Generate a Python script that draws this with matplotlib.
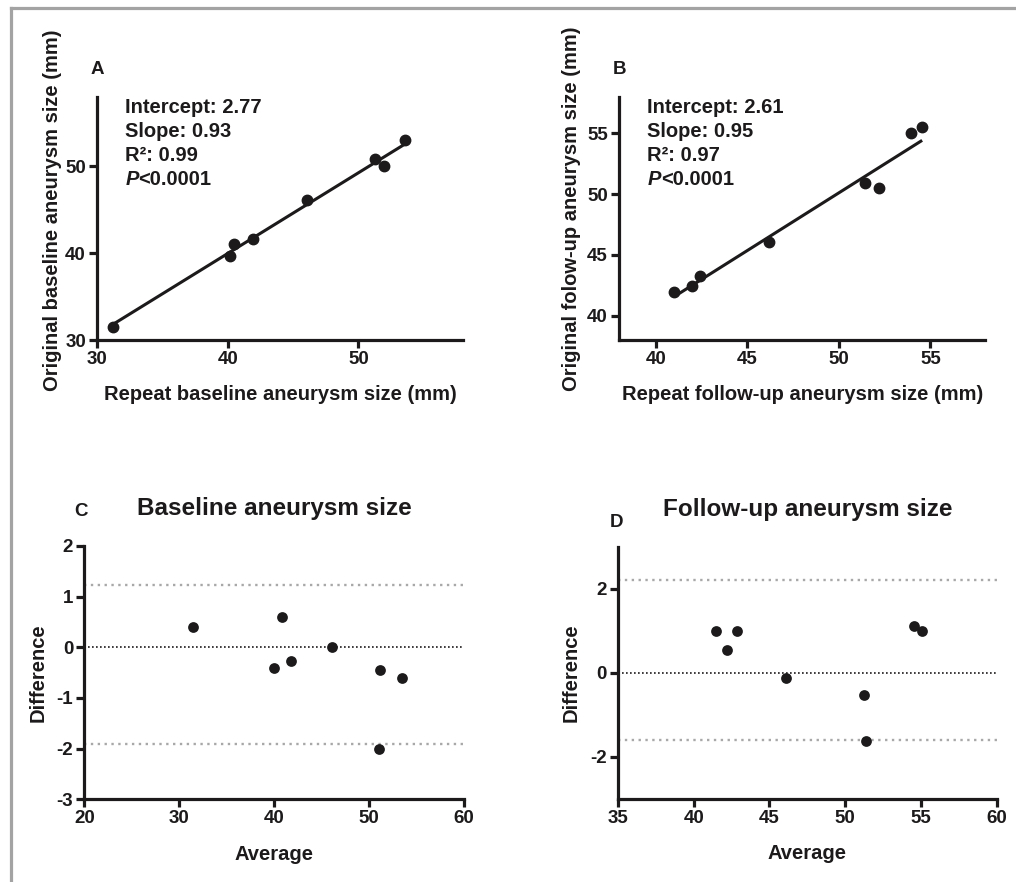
import matplotlib
matplotlib.use('Agg')
import matplotlib.pyplot as plt
from matplotlib.lines import Line2D

plt.rcParams['font.family'] = ['Liberation Sans', 'DejaVu Sans']
plt.rcParams['font.weight'] = 'bold'
plt.rcParams['axes.labelweight'] = 'bold'
plt.rcParams['axes.unicode_minus'] = False

# A: baseline, repeat vs original
base_rep = [31.2, 40.2, 40.5, 41.9, 46.1, 51.3, 51.95, 53.6]
base_orig = [31.5, 39.7, 41.1, 41.6, 46.1, 50.9, 50.0, 53.1]
base_fit = (2.77, 0.93)

# B: follow-up, repeat vs original
fu_rep = [41.0, 41.97, 42.4, 46.2, 51.45, 52.2, 53.95, 54.55]
fu_orig = [41.95, 42.45, 43.3, 46.05, 50.95, 50.55, 55.05, 55.55]
fu_fit = (2.61, 0.95)

# C: Bland-Altman baseline
c_avg = [31.4, 40.0, 40.8, 41.75, 46.05, 51.15, 51.0, 53.45]
c_diff = [0.40, -0.41, 0.60, -0.27, 0.0, -0.45, -2.0, -0.61]
c_limits = [1.22, -1.90]

# D: Bland-Altman follow-up
d_avg = [41.45, 42.2, 42.85, 46.1, 51.25, 51.4, 54.55, 55.1]
d_diff = [1.0, 0.55, 1.0, -0.12, -0.52, -1.61, 1.11, 1.0]
d_limits = [2.21, -1.59]

ink = '#1c1a1b'

fig = plt.figure(figsize=(10.16, 8.82), dpi=100)

# grey frame of the original figure
fig.add_artist(Line2D([0.0105, 1.0], [0.9905, 0.9905], color='#a3a3a3', lw=2.3))
fig.add_artist(Line2D([0.0105, 0.0105], [0.0, 0.9905], color='#a3a3a3', lw=2.3))


def style(ax):
    for s in ['top', 'right']:
        ax.spines[s].set_visible(False)
    for s in ['left', 'bottom']:
        ax.spines[s].set_linewidth(2.3)
        ax.spines[s].set_color(ink)
    ax.tick_params(direction='out', length=6, width=2.3, color=ink,
                   labelsize=13.5, pad=2, labelcolor=ink)
    for lab in ax.get_xticklabels() + ax.get_yticklabels():
        lab.set_fontweight('bold')


def regress(ax, x, y, fit, lim, ticks, xlabel, ylabel, stats, letter, ylab_pos):
    ax.plot(x, y, 'o', color=ink, ms=7.5, zorder=3)
    x0, x1 = min(x), max(x)
    ax.plot([x0, x1], [fit[0] + fit[1] * x0, fit[0] + fit[1] * x1],
            color=ink, lw=2.2, solid_capstyle='butt')
    ax.set_xlim(lim)
    ax.set_ylim(lim)
    ax.set_xticks(ticks)
    ax.set_yticks(ticks)
    ax.set_xlabel(xlabel, fontsize=14.5, color=ink)
    ax.set_ylabel(ylabel, fontsize=14.5, color=ink)
    ax.xaxis.set_label_coords(0.5, -0.184)
    ax.yaxis.set_label_coords(ylab_pos[0], ylab_pos[1])
    style(ax)
    lines = ['Intercept: %.2f' % fit[0], 'Slope: %.2f' % fit[1], 'R\u00b2: %.2f' % stats]
    for i, t in enumerate(lines):
        ax.text(0.077, 0.995 - i * 0.099, t, transform=ax.transAxes,
                fontsize=14.5, va='top', color=ink)
    p = ax.text(0.077, 0.995 - 3 * 0.099, 'P', transform=ax.transAxes,
                fontsize=14.5, va='top', style='italic', color=ink)
    ax.annotate('<0.0001', xy=(1, 0), xycoords=p, va='bottom', ha='left',
                fontsize=14.5, color=ink)
    ax.text(0.0, 1.08, letter, transform=ax.transAxes, fontsize=13.5,
            ha='center', va='bottom', color=ink)


axA = fig.add_axes([0.0955, 0.6145, 0.3602, 0.2755])
regress(axA, base_rep, base_orig, base_fit, (30, 58), [30, 40, 50],
        'Repeat baseline aneurysm size (mm)', 'Original baseline aneurysm size (mm)',
        0.99, 'A', (-0.0945, 0.535))

axB = fig.add_axes([0.6093, 0.6145, 0.3605, 0.2755])
regress(axB, fu_rep, fu_orig, fu_fit, (38, 58), [40, 45, 50, 55],
        'Repeat follow-up aneurysm size (mm)', 'Original folow-up aneurysm size (mm)',
        0.97, 'B', (-0.105, 0.54))


def bland(ax, avg, diff, limits, xlim, ylim, xticks, yticks, title, letter, lpos, ylx):
    ax.scatter(avg, diff, s=60, color=ink, zorder=3, linewidths=0)
    for v in limits:
        ax.axhline(v, color='#a8a8a8', lw=1.7, ls=(0, (1, 1.9)))
    ax.axhline(0, color=ink, lw=1.2, ls=(0, (1, 1.4)))
    ax.set_xlim(xlim)
    ax.set_ylim(ylim)
    ax.set_xticks(xticks)
    ax.set_yticks(yticks)
    ax.set_xlabel('Average', fontsize=14.5, color=ink)
    ax.set_ylabel('Difference', fontsize=14.5, color=ink)
    ax.xaxis.set_label_coords(0.5, -0.180)
    ax.yaxis.set_label_coords(ylx, 0.5)
    style(ax)
    ax.set_title(title, fontsize=17.5, fontweight='bold', pad=22, color=ink)
    ax.text(lpos[0], lpos[1], letter, transform=ax.transAxes, fontsize=13.5,
            ha='center', va='center', color=ink)


axC = fig.add_axes([0.083, 0.0938, 0.3737, 0.2872])
bland(axC, c_avg, c_diff, c_limits, (20, 60), (-3, 2), [20, 30, 40, 50, 60],
      [-3, -2, -1, 0, 1, 2], 'Baseline aneurysm size', 'C', (-0.01, 1.135), -0.096)

axD = fig.add_axes([0.6083, 0.0941, 0.3727, 0.2861])
bland(axD, d_avg, d_diff, d_limits, (35, 60), (-3, 3), [35, 40, 45, 50, 55, 60],
      [-2, 0, 2], 'Follow-up aneurysm size', 'D', (-0.005, 1.095), -0.0985)

fig.savefig('out.png', dpi=100)
